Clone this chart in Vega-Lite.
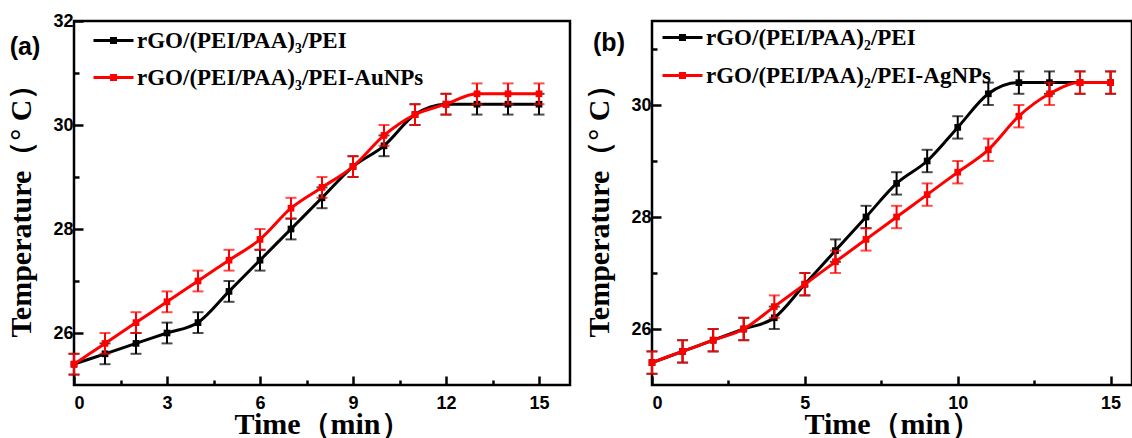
{
  "$schema": "https://vega.github.io/schema/vega-lite/v6.json",
  "background": "white",
  "padding": {"left": 5, "top": 10, "right": 0, "bottom": 0},
  "spacing": 82,
  "bounds": "flush",
  "config": {
    "view": {"stroke": "black", "strokeWidth": 2.5},
    "axis": {
      "domain": false, "grid": false, "ticks": true,
      "tickColor": "black", "tickWidth": 2.5,
      "labelFont": "Liberation Sans", "labelFontWeight": "bold", "labelFontSize": 18, "labelColor": "black",
      "titleFont": "Liberation Serif", "titleFontWeight": "bold", "titleFontSize": 30, "titleColor": "black"
    }
  },
  "datasets": {
    "d": [
      {"panel": "a", "series": "rGO/(PEI/PAA)₃/PEI", "t": 0, "T": 25.4, "err": 0.2},
      {"panel": "a", "series": "rGO/(PEI/PAA)₃/PEI", "t": 1, "T": 25.6, "err": 0.2},
      {"panel": "a", "series": "rGO/(PEI/PAA)₃/PEI", "t": 2, "T": 25.8, "err": 0.2},
      {"panel": "a", "series": "rGO/(PEI/PAA)₃/PEI", "t": 3, "T": 26.0, "err": 0.2},
      {"panel": "a", "series": "rGO/(PEI/PAA)₃/PEI", "t": 4, "T": 26.2, "err": 0.2},
      {"panel": "a", "series": "rGO/(PEI/PAA)₃/PEI", "t": 5, "T": 26.8, "err": 0.2},
      {"panel": "a", "series": "rGO/(PEI/PAA)₃/PEI", "t": 6, "T": 27.4, "err": 0.2},
      {"panel": "a", "series": "rGO/(PEI/PAA)₃/PEI", "t": 7, "T": 28.0, "err": 0.2},
      {"panel": "a", "series": "rGO/(PEI/PAA)₃/PEI", "t": 8, "T": 28.6, "err": 0.2},
      {"panel": "a", "series": "rGO/(PEI/PAA)₃/PEI", "t": 9, "T": 29.2, "err": 0.2},
      {"panel": "a", "series": "rGO/(PEI/PAA)₃/PEI", "t": 10, "T": 29.6, "err": 0.2},
      {"panel": "a", "series": "rGO/(PEI/PAA)₃/PEI", "t": 11, "T": 30.2, "err": 0.2},
      {"panel": "a", "series": "rGO/(PEI/PAA)₃/PEI", "t": 12, "T": 30.4, "err": 0.2},
      {"panel": "a", "series": "rGO/(PEI/PAA)₃/PEI", "t": 13, "T": 30.4, "err": 0.2},
      {"panel": "a", "series": "rGO/(PEI/PAA)₃/PEI", "t": 14, "T": 30.4, "err": 0.2},
      {"panel": "a", "series": "rGO/(PEI/PAA)₃/PEI", "t": 15, "T": 30.4, "err": 0.2},
      {"panel": "a", "series": "rGO/(PEI/PAA)₃/PEI-AuNPs", "t": 0, "T": 25.4, "err": 0.2},
      {"panel": "a", "series": "rGO/(PEI/PAA)₃/PEI-AuNPs", "t": 1, "T": 25.8, "err": 0.2},
      {"panel": "a", "series": "rGO/(PEI/PAA)₃/PEI-AuNPs", "t": 2, "T": 26.2, "err": 0.2},
      {"panel": "a", "series": "rGO/(PEI/PAA)₃/PEI-AuNPs", "t": 3, "T": 26.6, "err": 0.2},
      {"panel": "a", "series": "rGO/(PEI/PAA)₃/PEI-AuNPs", "t": 4, "T": 27.0, "err": 0.2},
      {"panel": "a", "series": "rGO/(PEI/PAA)₃/PEI-AuNPs", "t": 5, "T": 27.4, "err": 0.2},
      {"panel": "a", "series": "rGO/(PEI/PAA)₃/PEI-AuNPs", "t": 6, "T": 27.8, "err": 0.2},
      {"panel": "a", "series": "rGO/(PEI/PAA)₃/PEI-AuNPs", "t": 7, "T": 28.4, "err": 0.2},
      {"panel": "a", "series": "rGO/(PEI/PAA)₃/PEI-AuNPs", "t": 8, "T": 28.8, "err": 0.2},
      {"panel": "a", "series": "rGO/(PEI/PAA)₃/PEI-AuNPs", "t": 9, "T": 29.2, "err": 0.2},
      {"panel": "a", "series": "rGO/(PEI/PAA)₃/PEI-AuNPs", "t": 10, "T": 29.8, "err": 0.2},
      {"panel": "a", "series": "rGO/(PEI/PAA)₃/PEI-AuNPs", "t": 11, "T": 30.2, "err": 0.2},
      {"panel": "a", "series": "rGO/(PEI/PAA)₃/PEI-AuNPs", "t": 12, "T": 30.4, "err": 0.2},
      {"panel": "a", "series": "rGO/(PEI/PAA)₃/PEI-AuNPs", "t": 13, "T": 30.6, "err": 0.2},
      {"panel": "a", "series": "rGO/(PEI/PAA)₃/PEI-AuNPs", "t": 14, "T": 30.6, "err": 0.2},
      {"panel": "a", "series": "rGO/(PEI/PAA)₃/PEI-AuNPs", "t": 15, "T": 30.6, "err": 0.2},
      {"panel": "b", "series": "rGO/(PEI/PAA)₂/PEI", "t": 0, "T": 25.4, "err": 0.2},
      {"panel": "b", "series": "rGO/(PEI/PAA)₂/PEI", "t": 1, "T": 25.6, "err": 0.2},
      {"panel": "b", "series": "rGO/(PEI/PAA)₂/PEI", "t": 2, "T": 25.8, "err": 0.2},
      {"panel": "b", "series": "rGO/(PEI/PAA)₂/PEI", "t": 3, "T": 26.0, "err": 0.2},
      {"panel": "b", "series": "rGO/(PEI/PAA)₂/PEI", "t": 4, "T": 26.2, "err": 0.2},
      {"panel": "b", "series": "rGO/(PEI/PAA)₂/PEI", "t": 5, "T": 26.8, "err": 0.2},
      {"panel": "b", "series": "rGO/(PEI/PAA)₂/PEI", "t": 6, "T": 27.4, "err": 0.2},
      {"panel": "b", "series": "rGO/(PEI/PAA)₂/PEI", "t": 7, "T": 28.0, "err": 0.2},
      {"panel": "b", "series": "rGO/(PEI/PAA)₂/PEI", "t": 8, "T": 28.6, "err": 0.2},
      {"panel": "b", "series": "rGO/(PEI/PAA)₂/PEI", "t": 9, "T": 29.0, "err": 0.2},
      {"panel": "b", "series": "rGO/(PEI/PAA)₂/PEI", "t": 10, "T": 29.6, "err": 0.2},
      {"panel": "b", "series": "rGO/(PEI/PAA)₂/PEI", "t": 11, "T": 30.2, "err": 0.2},
      {"panel": "b", "series": "rGO/(PEI/PAA)₂/PEI", "t": 12, "T": 30.4, "err": 0.2},
      {"panel": "b", "series": "rGO/(PEI/PAA)₂/PEI", "t": 13, "T": 30.4, "err": 0.2},
      {"panel": "b", "series": "rGO/(PEI/PAA)₂/PEI", "t": 14, "T": 30.4, "err": 0.2},
      {"panel": "b", "series": "rGO/(PEI/PAA)₂/PEI", "t": 15, "T": 30.4, "err": 0.2},
      {"panel": "b", "series": "rGO/(PEI/PAA)₂/PEI-AgNPs", "t": 0, "T": 25.4, "err": 0.2},
      {"panel": "b", "series": "rGO/(PEI/PAA)₂/PEI-AgNPs", "t": 1, "T": 25.6, "err": 0.2},
      {"panel": "b", "series": "rGO/(PEI/PAA)₂/PEI-AgNPs", "t": 2, "T": 25.8, "err": 0.2},
      {"panel": "b", "series": "rGO/(PEI/PAA)₂/PEI-AgNPs", "t": 3, "T": 26.0, "err": 0.2},
      {"panel": "b", "series": "rGO/(PEI/PAA)₂/PEI-AgNPs", "t": 4, "T": 26.4, "err": 0.2},
      {"panel": "b", "series": "rGO/(PEI/PAA)₂/PEI-AgNPs", "t": 5, "T": 26.8, "err": 0.2},
      {"panel": "b", "series": "rGO/(PEI/PAA)₂/PEI-AgNPs", "t": 6, "T": 27.2, "err": 0.2},
      {"panel": "b", "series": "rGO/(PEI/PAA)₂/PEI-AgNPs", "t": 7, "T": 27.6, "err": 0.2},
      {"panel": "b", "series": "rGO/(PEI/PAA)₂/PEI-AgNPs", "t": 8, "T": 28.0, "err": 0.2},
      {"panel": "b", "series": "rGO/(PEI/PAA)₂/PEI-AgNPs", "t": 9, "T": 28.4, "err": 0.2},
      {"panel": "b", "series": "rGO/(PEI/PAA)₂/PEI-AgNPs", "t": 10, "T": 28.8, "err": 0.2},
      {"panel": "b", "series": "rGO/(PEI/PAA)₂/PEI-AgNPs", "t": 11, "T": 29.2, "err": 0.2},
      {"panel": "b", "series": "rGO/(PEI/PAA)₂/PEI-AgNPs", "t": 12, "T": 29.8, "err": 0.2},
      {"panel": "b", "series": "rGO/(PEI/PAA)₂/PEI-AgNPs", "t": 13, "T": 30.2, "err": 0.2},
      {"panel": "b", "series": "rGO/(PEI/PAA)₂/PEI-AgNPs", "t": 14, "T": 30.4, "err": 0.2},
      {"panel": "b", "series": "rGO/(PEI/PAA)₂/PEI-AgNPs", "t": 15, "T": 30.4, "err": 0.2}
    ]
  },
  "resolve": {"scale": {"color": "independent", "x": "independent", "y": "independent"}},
  "hconcat": [
    {
      "width": 496, "height": 364,
      "title": {"text": "(a)", "orient": "top", "anchor": "start", "frame": "group", "align": "center", "baseline": "middle",
        "offset": 0, "dx": -49, "dy": 60, "font": "Liberation Sans", "fontSize": 25, "fontWeight": "bold", "color": "black"},
      "data": {"name": "d"},
      "encoding": {
        "x": {"field": "t", "type": "quantitative", "title": "Time（min）", "scale": {"domain": [0, 16], "nice": false, "zero": false},
          "axis": {"values": [0, 1.5, 3, 4.5, 6, 7.5, 9, 10.5, 12, 13.5, 15], "labelExpr": "datum.value % 3 === 0 ? datum.label : ''",
            "tickSize": {"condition": {"test": "datum.value % 3 === 0", "value": -9}, "value": -5}, "labelPadding": 18, "titlePadding": -3}},
        "y": {"field": "T", "type": "quantitative", "title": "Temperature（° C）", "scale": {"domain": [25, 32], "nice": false, "zero": false},
          "axis": {"values": [26, 27, 28, 29, 30, 31, 32], "labelExpr": "datum.value % 2 === 0 ? datum.label : ''",
            "tickSize": {"condition": {"test": "datum.value % 2 === 0", "value": -9}, "value": -5}, "labelPadding": 10, "titlePadding": 16}}
      },
      "layer": [
        {"transform": [{"filter": "datum.panel === 'a' && datum.series === 'rGO/(PEI/PAA)₃/PEI'"}],
         "mark": {"type": "errorbar", "color": "black", "thickness": 2, "ticks": {"size": 11, "thickness": 2}},
         "encoding": {"yError": {"field": "err"}}},
        {"transform": [{"filter": "datum.panel === 'a' && datum.series === 'rGO/(PEI/PAA)₃/PEI'"}],
         "mark": {"type": "line", "interpolate": "monotone", "strokeWidth": 3},
         "encoding": {"color": {"field": "series", "type": "nominal",
           "scale": {"domain": ["rGO/(PEI/PAA)₃/PEI", "rGO/(PEI/PAA)₃/PEI-AuNPs"], "range": ["black", "#ff0000"]},
           "legend": {"orient": "none", "legendX": 18, "legendY": -2, "title": null, "padding": 0,
             "symbolType": "M-1,0H1 M-0.1,-0.1H0.1V0.1H-0.1Z", "symbolSize": 1600, "symbolStrokeWidth": 3,
             "labelFont": "Liberation Serif", "labelFontWeight": "bold", "labelFontSize": 23, "labelColor": "black",
             "labelLimit": 0, "labelOffset": 2, "rowPadding": 3}}}},
        {"transform": [{"filter": "datum.panel === 'a' && datum.series === 'rGO/(PEI/PAA)₃/PEI'"}],
         "mark": {"type": "point", "shape": "square", "filled": true, "opacity": 1, "size": 45, "color": "black"}},
        {"transform": [{"filter": "datum.panel === 'a' && datum.series === 'rGO/(PEI/PAA)₃/PEI-AuNPs'"}],
         "mark": {"type": "errorbar", "color": "#ff0000", "thickness": 2, "ticks": {"size": 11, "thickness": 2}},
         "encoding": {"yError": {"field": "err"}}},
        {"transform": [{"filter": "datum.panel === 'a' && datum.series === 'rGO/(PEI/PAA)₃/PEI-AuNPs'"}],
         "mark": {"type": "line", "interpolate": "monotone", "strokeWidth": 3},
         "encoding": {"color": {"field": "series", "type": "nominal",
           "scale": {"domain": ["rGO/(PEI/PAA)₃/PEI", "rGO/(PEI/PAA)₃/PEI-AuNPs"], "range": ["black", "#ff0000"]},
           "legend": {"orient": "none", "legendX": 18, "legendY": -2, "title": null, "padding": 0,
             "symbolType": "M-1,0H1 M-0.1,-0.1H0.1V0.1H-0.1Z", "symbolSize": 1600, "symbolStrokeWidth": 3,
             "labelFont": "Liberation Serif", "labelFontWeight": "bold", "labelFontSize": 23, "labelColor": "black",
             "labelLimit": 0, "labelOffset": 2, "rowPadding": 3}}}},
        {"transform": [{"filter": "datum.panel === 'a' && datum.series === 'rGO/(PEI/PAA)₃/PEI-AuNPs'"}],
         "mark": {"type": "point", "shape": "square", "filled": true, "opacity": 1, "size": 45, "color": "#ff0000"}}
      ]
    },
    {
      "width": 480, "height": 364,
      "title": {"text": "(b)", "orient": "top", "anchor": "start", "frame": "group", "align": "center", "baseline": "middle",
        "offset": 0, "dx": -43, "dy": 52, "font": "Liberation Sans", "fontSize": 25, "fontWeight": "bold", "color": "black"},
      "data": {"name": "d"},
      "encoding": {
        "x": {"field": "t", "type": "quantitative", "title": "Time（min）", "scale": {"domain": [0, 15.7], "nice": false, "zero": false},
          "axis": {"values": [0, 2.5, 5, 7.5, 10, 12.5, 15], "labelExpr": "datum.value % 5 === 0 ? datum.label : ''",
            "tickSize": {"condition": {"test": "datum.value % 5 === 0", "value": -9}, "value": -5}, "labelPadding": 18, "titlePadding": -3}},
        "y": {"field": "T", "type": "quantitative", "title": "Temperature（° C）", "scale": {"domain": [25, 31.5], "nice": false, "zero": false},
          "axis": {"values": [26, 27, 28, 29, 30, 31], "labelExpr": "datum.value % 2 === 0 ? datum.label : ''",
            "tickSize": {"condition": {"test": "datum.value % 2 === 0", "value": -9}, "value": -5}, "labelPadding": 10, "titlePadding": 16}}
      },
      "layer": [
        {"transform": [{"filter": "datum.panel === 'b' && datum.series === 'rGO/(PEI/PAA)₂/PEI'"}],
         "mark": {"type": "errorbar", "color": "black", "thickness": 2, "ticks": {"size": 11, "thickness": 2}},
         "encoding": {"yError": {"field": "err"}}},
        {"transform": [{"filter": "datum.panel === 'b' && datum.series === 'rGO/(PEI/PAA)₂/PEI'"}],
         "mark": {"type": "line", "interpolate": "monotone", "strokeWidth": 3},
         "encoding": {"color": {"field": "series", "type": "nominal",
           "scale": {"domain": ["rGO/(PEI/PAA)₂/PEI", "rGO/(PEI/PAA)₂/PEI-AgNPs"], "range": ["black", "#ff0000"]},
           "legend": {"orient": "none", "legendX": 9, "legendY": -5, "title": null, "padding": 0,
             "symbolType": "M-1,0H1 M-0.1,-0.1H0.1V0.1H-0.1Z", "symbolSize": 1600, "symbolStrokeWidth": 3,
             "labelFont": "Liberation Serif", "labelFontWeight": "bold", "labelFontSize": 23, "labelColor": "black",
             "labelLimit": 0, "labelOffset": 2, "rowPadding": 4}}}},
        {"transform": [{"filter": "datum.panel === 'b' && datum.series === 'rGO/(PEI/PAA)₂/PEI'"}],
         "mark": {"type": "point", "shape": "square", "filled": true, "opacity": 1, "size": 45, "color": "black"}},
        {"transform": [{"filter": "datum.panel === 'b' && datum.series === 'rGO/(PEI/PAA)₂/PEI-AgNPs'"}],
         "mark": {"type": "errorbar", "color": "#ff0000", "thickness": 2, "ticks": {"size": 11, "thickness": 2}},
         "encoding": {"yError": {"field": "err"}}},
        {"transform": [{"filter": "datum.panel === 'b' && datum.series === 'rGO/(PEI/PAA)₂/PEI-AgNPs'"}],
         "mark": {"type": "line", "interpolate": "monotone", "strokeWidth": 3},
         "encoding": {"color": {"field": "series", "type": "nominal",
           "scale": {"domain": ["rGO/(PEI/PAA)₂/PEI", "rGO/(PEI/PAA)₂/PEI-AgNPs"], "range": ["black", "#ff0000"]},
           "legend": {"orient": "none", "legendX": 9, "legendY": -5, "title": null, "padding": 0,
             "symbolType": "M-1,0H1 M-0.1,-0.1H0.1V0.1H-0.1Z", "symbolSize": 1600, "symbolStrokeWidth": 3,
             "labelFont": "Liberation Serif", "labelFontWeight": "bold", "labelFontSize": 23, "labelColor": "black",
             "labelLimit": 0, "labelOffset": 2, "rowPadding": 4}}}},
        {"transform": [{"filter": "datum.panel === 'b' && datum.series === 'rGO/(PEI/PAA)₂/PEI-AgNPs'"}],
         "mark": {"type": "point", "shape": "square", "filled": true, "opacity": 1, "size": 45, "color": "#ff0000"}}
      ]
    }
  ]
}
